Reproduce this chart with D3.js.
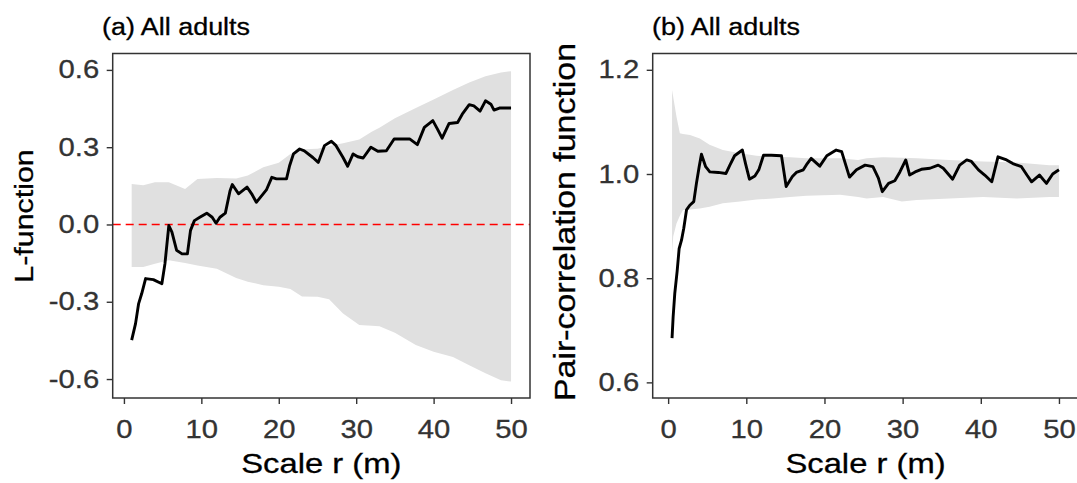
<!DOCTYPE html>
<html>
<head>
<meta charset="utf-8">
<script src="https://cdn.jsdelivr.net/npm/d3@7"></script>
<style>
  body { margin: 0; background: #fff; }
  svg text { font-family: "Liberation Sans", Arial, sans-serif; }
</style>
</head>
<body>
<div id="ChartArea"></div>
<script>
// ------------------------------------------------------------------
//  data
// ------------------------------------------------------------------

// (a) L-function, observed
const lR   = [1,1.5,1.9,2.3,2.8,3.8,4.9,5.3,5.8,6.2,6.8,7.5,8.2,8.6,9.1,9.8,10.7,11.4,11.9,12.4,13.1,13.7,14,14.8,15.9,16.5,17.1,18.4,19.1,19.7,21,21.4,21.9,22.7,23.3,24.4,25.1,25.9,26.8,27.4,28.3,28.9,29.6,30.2,30.9,31.9,32.8,33.9,34.9,36.9,37.9,38.8,39.9,40.5,41.1,42,43.1,43.7,44.6,45.2,46,46.7,47.4,47.8,48.5,50];
const lObs = [-0.449,-0.385,-0.307,-0.268,-0.21,-0.214,-0.23,-0.152,-0.004,-0.03,-0.10,-0.114,-0.114,-0.023,0.015,0.028,0.044,0.028,0.005,0.028,0.044,0.13,0.155,0.119,0.145,0.119,0.086,0.134,0.183,0.177,0.177,0.228,0.274,0.293,0.286,0.26,0.241,0.306,0.323,0.306,0.26,0.226,0.274,0.263,0.258,0.30,0.284,0.286,0.332,0.332,0.31,0.377,0.403,0.37,0.335,0.392,0.396,0.428,0.465,0.46,0.44,0.48,0.467,0.444,0.452,0.452];

// (a) simulation envelope
const lEnvR  = [1,2.5,4,5.8,7.9,9.5,12,14.5,16,18,20,21.5,23,25,26.5,28.3,30.4,32,33,35,37.7,40,42.5,44.6,46.7,48.7,50];
const lEnvHi = [0.157,0.152,0.164,0.164,0.138,0.177,0.18,0.178,0.19,0.222,0.24,0.274,0.292,0.294,0.305,0.315,0.33,0.36,0.375,0.412,0.452,0.485,0.522,0.551,0.575,0.59,0.595];
const lEnvLo = [-0.165,-0.165,-0.152,-0.139,-0.15,-0.159,-0.172,-0.208,-0.222,-0.236,-0.242,-0.25,-0.28,-0.281,-0.29,-0.346,-0.39,-0.393,-0.395,-0.42,-0.468,-0.494,-0.514,-0.546,-0.578,-0.605,-0.61];

// (b) pair-correlation function, observed
const gR   = [0.5,0.64,0.85,1.15,1.41,1.71,2.0,2.35,2.77,3.28,3.62,3.97,4.26,4.8,5.33,6.4,7.4,7.9,8.5,9.5,9.9,10.4,11.1,11.6,12.2,13.2,14.5,15.1,15.9,16.4,17.3,17.8,18.3,19.4,20.3,21.5,22.2,23.2,24.1,25.2,26.2,26.9,27.4,28.2,29.0,29.65,30.4,30.9,31.6,32.4,33.5,34.55,35.2,36.4,37.3,38.2,38.8,39.7,40.5,41.4,42.2,43.3,44.1,45.2,45.9,46.5,47.5,48.4,49.2,50];
const gObs = [0.685,0.726,0.771,0.813,0.857,0.873,0.896,0.931,0.94,0.947,0.982,1.014,1.038,1.014,1.004,1.003,1.001,1.017,1.035,1.046,1.02,0.99,0.996,1.008,1.036,1.036,1.035,0.976,0.995,1.003,1.008,1.02,1.03,1.015,1.035,1.046,1.043,0.994,1.008,1.017,1.014,0.992,0.966,0.982,0.987,1.004,1.027,0.998,1.004,1.009,1.011,1.017,1.011,0.99,1.017,1.027,1.024,1.008,0.998,0.985,1.033,1.027,1.02,1.014,0.998,0.985,0.998,0.982,1.0,1.008];

// (b) simulation envelope
const gEnvR  = [0.5,0.65,1.07,1.5,1.9,2.8,4.05,5.3,7,9.2,11.3,13.4,15.6,17.7,22,24.3,25.4,27.5,29.9,31.8,36,40.3,44.6,48.8,50];
const gEnvHi = [1.161,1.148,1.11,1.078,1.077,1.075,1.068,1.056,1.046,1.04,1.035,1.033,1.032,1.03,1.03,1.027,1.03,1.032,1.031,1.03,1.027,1.024,1.022,1.017,1.017];
const gEnvLo = [0.848,0.88,0.905,0.92,0.931,0.932,0.934,0.937,0.944,0.947,0.951,0.953,0.956,0.958,0.96,0.956,0.953,0.956,0.947,0.95,0.953,0.956,0.953,0.956,0.956];

// ticks
const xTicks  = [0,10,20,30,40,50];
const lYTicks = [-0.6,-0.3,0,0.3,0.6];
const gYTicks = [0.6,0.8,1.0,1.2];

// ------------------------------------------------------------------
const W = 1077, H = 483;
const SX = 1.17;   // the original lettering is wide, stretch it a bit

const svg = d3.select("#ChartArea").append("svg")
    .attr("width", W)
    .attr("height", H);

function draw_panel (o)
{
  const x = d3.scaleLinear().domain(o.xDom).range([o.left, o.right]);
  const y = d3.scaleLinear().domain(o.yDom).range([o.bottom, o.top]);

  const g = svg.append("g");

  // envelope
  const env = o.envR.map((r, i) => ({r: r, lo: o.envLo[i], hi: o.envHi[i]}));
  g.append("path")
    .datum(env)
    .attr("fill", "#e0e0e0")
    .attr("d", d3.area()
      .x(d => x(d.r))
      .y0(d => y(d.lo))
      .y1(d => y(d.hi)));

  // reference line (only panel a)
  if (o.refLine !== undefined) {
    g.append("line")
      .attr("x1", o.left).attr("x2", o.right)
      .attr("y1", y(o.refLine)).attr("y2", y(o.refLine))
      .attr("stroke", "#ff0000")
      .attr("stroke-width", 1.6)
      .attr("stroke-dasharray", "8,5");
  }

  // observed curve
  const obs = o.r.map((r, i) => ({r: r, v: o.v[i]}));
  g.append("path")
    .datum(obs)
    .attr("fill", "none")
    .attr("stroke", "#000")
    .attr("stroke-width", 2.9)
    .attr("stroke-linejoin", "round")
    .attr("d", d3.line().x(d => x(d.r)).y(d => y(d.v)));

  // x axis
  const ax = g.append("g")
    .attr("transform", "translate(0," + o.bottom + ")")
    .call(d3.axisBottom(x).tickValues(xTicks).tickSize(6).tickFormat(d3.format("d")));
  ax.select(".domain").remove();
  ax.selectAll("line").attr("stroke", "#333").attr("stroke-width", 1.4);
  ax.selectAll("text")
    .attr("y", null).attr("dy", null)
    .attr("transform", "translate(0,40) scale(" + SX + ",1)")
    .attr("fill", "#333")
    .attr("stroke", "#333").attr("stroke-width", 0.3)
    .style("font-size", "25px");

  // y axis
  const ay = g.append("g")
    .attr("transform", "translate(" + o.left + ",0)")
    .call(d3.axisLeft(y).tickValues(o.yTicks).tickSize(6).tickFormat(d => d.toFixed(1)));
  ay.select(".domain").remove();
  ay.selectAll("line").attr("stroke", "#333").attr("stroke-width", 1.4);
  ay.selectAll("text")
    .attr("x", null)
    .attr("transform", "translate(-13.5,0) scale(" + SX + ",1)")
    .attr("fill", "#333")
    .attr("stroke", "#333").attr("stroke-width", 0.3)
    .style("font-size", "25px");

  // panel border
  g.append("rect")
    .attr("x", o.left).attr("y", o.top)
    .attr("width", o.right - o.left).attr("height", o.bottom - o.top)
    .attr("fill", "none")
    .attr("stroke", "#333")
    .attr("stroke-width", 1.5);

  // titles
  g.append("text")
    .attr("transform", "translate(" + o.titleX + ",35) scale(" + SX + ",1)")
    .attr("stroke", "#000").attr("stroke-width", 0.3)
    .style("font-size", "23px")
    .text(o.title);

  g.append("text")
    .attr("text-anchor", "middle")
    .attr("transform", "translate(" + ((o.left + o.right) / 2) + ",473) scale(" + SX + ",1)")
    .attr("stroke", "#000").attr("stroke-width", 0.3)
    .style("font-size", "28px")
    .text("Scale r (m)");

  g.append("text")
    .attr("text-anchor", "middle")
    .attr("transform", "translate(" + o.yTitleX + "," + o.yTitleY + ") rotate(-90) scale(" + SX + ",1)")
    .attr("stroke", "#000").attr("stroke-width", 0.3)
    .style("font-size", o.yTitleSize + "px")
    .text(o.yTitle);
}

draw_panel({
  left: 112.7, right: 530, top: 53.5, bottom: 398,
  xDom: [-1.45, 52.45], yDom: [-0.6736, 0.6637], yTicks: lYTicks,
  r: lR, v: lObs, envR: lEnvR, envLo: lEnvLo, envHi: lEnvHi,
  refLine: 0,
  title: "(a) All adults", titleX: 102,
  yTitle: "L-function", yTitleX: 33, yTitleY: 216, yTitleSize: 26
});

draw_panel({
  left: 652.7, right: 1078.3, top: 53.5, bottom: 398,
  xDom: [-1.975, 52.475], yDom: [0.570, 1.2313], yTicks: gYTicks,
  r: gR, v: gObs, envR: gEnvR, envLo: gEnvLo, envHi: gEnvHi,
  title: "(b) All adults", titleX: 652,
  yTitle: "Pair-correlation function", yTitleX: 575, yTitleY: 222, yTitleSize: 29
});
</script>
</body>
</html>
